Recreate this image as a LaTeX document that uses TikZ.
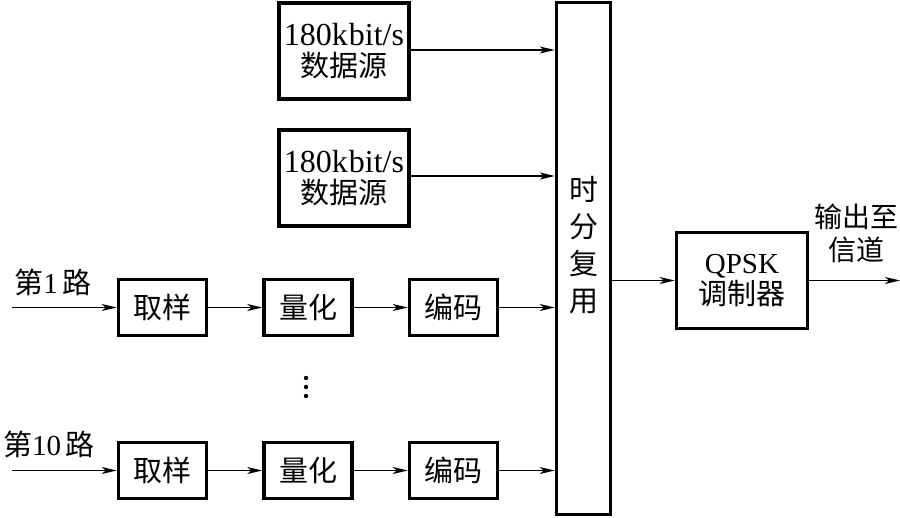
\documentclass[tikz,border=0pt]{standalone}
\usepackage{fontspec}
\setmainfont{Liberation Serif}
\newfontfamily\cjk{Noto Sans CJK SC}
\usetikzlibrary{arrows.meta,calc}
\newcommand{\zh}[1]{{\cjk #1}}
\tikzset{
  blk/.style={draw,line width=3.5pt,rectangle,inner sep=0pt,align=center,font=\fontsize{29}{34}\selectfont},
  conn/.style={line width=1.3pt,-{Stealth[length=15pt,width=7pt,inset=4pt]}},
  lbl/.style={inner sep=0pt,align=center,font=\fontsize{29}{34}\selectfont}
}
\newcommand{\rate}{{\fontsize{32}{34}\selectfont 180k\kern1pt bit/s}}
\begin{document}
\begin{tikzpicture}[x=1pt,y=-1pt]
\useasboundingbox (0,0) rectangle (900,518);
% data sources
\node[blk,minimum width=130pt,minimum height=96pt] (ds1) at (344,51) {\rate\\[-3pt]\zh{数据源}};
\node[blk,minimum width=130pt,minimum height=96pt] (ds2) at (344,178) {\rate\\[-3pt]\zh{数据源}};
% mux
\node[blk,minimum width=54pt,minimum height=512pt] (mux) at (583.5,258.5) {};
\node[lbl,font=\fontsize{29}{37}\selectfont] (muxt) at (583.5,245) {\zh{时}\\\zh{分}\\\zh{复}\\\zh{用}};
% qpsk
\node[blk,minimum width=131pt,minimum height=96pt] (qp) at (742,280.5) {QPSK\\[-3pt]\zh{调制器}};
% row 1
\node[blk,minimum width=88pt,minimum height=56pt] (s1) at (162.5,307.5) {\zh{取样}};
\node[blk,minimum width=88pt,minimum height=56pt] (q1) at (308,307.5) {\zh{量化}};
\node[blk,minimum width=88pt,minimum height=56pt] (c1) at (453.5,307.5) {\zh{编码}};
% row 10
\node[blk,minimum width=88pt,minimum height=56pt] (s2) at (162.5,470.5) {\zh{取样}};
\node[blk,minimum width=88pt,minimum height=56pt] (q2) at (308,470.5) {\zh{量化}};
\node[blk,minimum width=88pt,minimum height=56pt] (c2) at (453.5,470.5) {\zh{编码}};
% labels
\node[lbl] (l1) at (53,282) {\zh{第}1\,\zh{路}};
\node[lbl] (l2) at (49,444) {\zh{第}10\,\zh{路}};
\node[lbl,font=\fontsize{28}{33}\selectfont] (lo) at (856,233) {\zh{输出至}\\\zh{信道}};
% input/output coordinates
\coordinate (in1) at (12,307.5);
\coordinate (in2) at (12,470.5);
\coordinate (out) at (900,280.5);
% connectors
\draw[conn] (in1) -- (s1);
\draw[conn] (s1) -- (q1);
\draw[conn] (q1) -- (c1);
\draw[conn] (c1) -- (c1 -| mux.west);
\draw[conn] (in2) -- (s2);
\draw[conn] (s2) -- (q2);
\draw[conn] (q2) -- (c2);
\draw[conn] (c2) -- (c2 -| mux.west);
\draw[conn] ($(ds1.east)+(0,-1)$) -- ($(ds1.east -| mux.west)+(0,-1)$);
\draw[conn] ($(ds2.east)+(0,-2)$) -- ($(ds2.east -| mux.west)+(0,-2)$);
\draw[conn] (mux.east |- qp.west) -- (qp.west);
\draw[conn] (qp.east) -- (out);
% dots
\foreach \yy/\nm in {378/d1,387/d2,396/d3} \fill (306,\yy) circle[radius=2.2pt] coordinate (\nm);
\end{tikzpicture}
\end{document}
